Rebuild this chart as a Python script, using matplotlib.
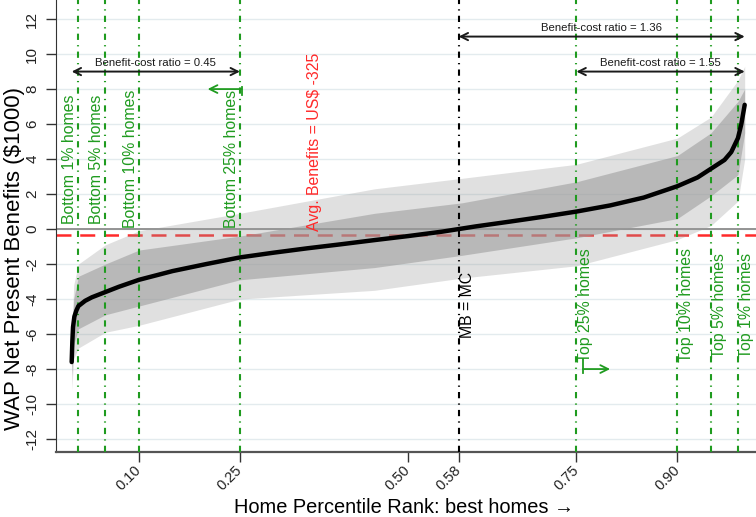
import matplotlib
matplotlib.use("Agg")
import matplotlib.pyplot as plt

plt.rcParams["font.family"] = ["Liberation Sans", "DejaVu Sans"]

# Sorted net present benefits ($1000) against home percentile rank
rank = [0.0, 0.001, 0.002, 0.004, 0.007, 0.01, 0.02, 0.03, 0.05, 0.07, 0.10,
        0.15, 0.20, 0.25, 0.30, 0.35, 0.40, 0.45, 0.50, 0.55, 0.575, 0.60,
        0.65, 0.70, 0.75, 0.80, 0.85, 0.90, 0.93, 0.95, 0.97, 0.98, 0.99,
        0.995, 1.0]
npb = [-7.6, -6.4, -5.6, -5.0, -4.65, -4.4, -4.1, -3.9, -3.6, -3.3, -2.9,
       -2.4, -2.0, -1.62, -1.35, -1.1, -0.87, -0.63, -0.4, -0.15, 0.0, 0.15,
       0.42, 0.7, 1.0, 1.35, 1.8, 2.45, 2.95, 3.45, 3.95, 4.4, 5.2,
       6.0, 7.1]

# Spread of the individual home estimates around the sorted curve
band_rank = [0.0, 0.003, 0.01, 0.05, 0.10, 0.25, 0.45, 0.58, 0.75, 0.90,
             0.95, 0.99, 1.0]
core_hi = [-6.8, -4.0, -2.7, -2.0, -1.2, -0.4, 0.9, 1.5, 2.7, 4.2, 5.5, 7.3, 8.0]
core_lo = [-8.4, -6.6, -5.7, -4.9, -4.4, -2.9, -2.2, -1.5, -0.5, 0.6, 1.9, 3.1, 5.5]
spike_hi = [-6.0, -3.2, -2.0, -0.9, -0.1, 0.9, 2.3, 2.9, 3.7, 5.2, 6.4, 8.5, 9.3]
spike_lo = [-9.2, -7.4, -6.8, -5.9, -5.5, -4.0, -3.5, -2.8, -2.1, -0.6, 0.2, 1.6, 4.0]

avg_benefit = -0.325
mb_mc_rank = 0.575

bottom_cuts = [0.01, 0.05, 0.10, 0.25]
bottom_labels = ["Bottom 1% homes", "Bottom 5% homes", "Bottom 10% homes",
                 "Bottom 25% homes"]
top_cuts = [0.75, 0.90, 0.95, 0.99]
top_labels = ["Top 25% homes", "Top 10% homes", "Top 5% homes", "Top 1% homes"]

xticks = [0.10, 0.25, 0.50, mb_mc_rank, 0.75, 0.90]
xtick_labels = ["0.10", "0.25", "0.50", "0.58", "0.75", "0.90"]
yticks = list(range(-12, 13, 2))

bcr_values = [0.45, 1.36, 1.55]
bcr_from = [0.0, mb_mc_rank, 0.75]
bcr_to = [0.25, 1.0, 1.0]
bcr_y = [9.0, 11.0, 9.0]

green = "#1f9b1f"
dashdot = (0, (3, 2.5, 0.6, 2.5))

fig = plt.figure(figsize=(7.56, 5.17), dpi=100)
ax = fig.add_axes([56 / 756, 1 - 452 / 517, 1 - 56 / 756, 452 / 517])
ax.set_xlim(-0.0233, 1.0168)
ax.set_ylim(-12.74, 13.09)

for yv in yticks:
    ax.axhline(yv, color="#e3ebee", lw=1.0, zorder=0)
ax.axhline(0, color="#8c8c8c", lw=1.3, zorder=1)
ax.axhline(avg_benefit, color="#ff2a2a", lw=1.8, ls=(0, (6, 3.5)), zorder=1)

ax.fill_between(band_rank, spike_lo, spike_hi, color="#9a9a9a", alpha=0.30,
                lw=0, zorder=2)
ax.fill_between(band_rank, core_lo, core_hi, color="#9a9a9a", alpha=0.56,
                lw=0, zorder=2)

for xc in bottom_cuts + top_cuts:
    ax.axvline(xc, color=green, lw=1.5, ls=dashdot, zorder=3)
ax.axvline(mb_mc_rank, color="black", lw=1.5, ls=dashdot, zorder=3)

ax.plot(rank, npb, color="black", lw=3.2, solid_capstyle="round",
        solid_joinstyle="round", zorder=4)

# Rotated cut-off labels
for xc, lab in zip(bottom_cuts, bottom_labels):
    ax.text(xc - 0.002, 4.0, lab, rotation=90, color=green, fontsize=11.4,
            ha="right", va="center", zorder=5)
for xc, lab in zip(top_cuts, top_labels):
    ax.text(xc + 0.002, -4.35, lab, rotation=90, color=green, fontsize=11.4,
            ha="left", va="center", zorder=5)
ax.text(mb_mc_rank + 0.002, -4.35, "MB = MC", rotation=90, color="black",
        fontsize=11.4, ha="left", va="center", zorder=5)
ax.text(0.372, 5.0, "Avg. Benefits = US$ -325", rotation=90, color="#ff2a2a",
        fontsize=11.4, ha="right", va="center", zorder=5)

# Direction arrows for the bottom and top quartiles
ax.plot([0.2525, 0.2525], [8.1, 7.65], color=green, lw=1.3, zorder=5)
ax.annotate("", xy=(0.202, 8.0), xytext=(0.2525, 8.0),
            arrowprops=dict(arrowstyle="->", color=green, lw=1.3,
                            mutation_scale=14, shrinkA=0, shrinkB=0), zorder=5)
ax.plot([0.7595, 0.7595], [-7.4, -8.2], color=green, lw=1.3, zorder=5)
ax.annotate("", xy=(0.80, -8.0), xytext=(0.7595, -8.0),
            arrowprops=dict(arrowstyle="->", color=green, lw=1.3,
                            mutation_scale=14, shrinkA=0, shrinkB=0), zorder=5)

# Benefit-cost ratio spans
for x0, x1, yv, bcr in zip(bcr_from, bcr_to, bcr_y, bcr_values):
    ax.annotate("", xy=(x0, yv), xytext=(x1, yv),
                arrowprops=dict(arrowstyle="<->", color="#1a1a1a", lw=1.4,
                                mutation_scale=13, shrinkA=0, shrinkB=0),
                zorder=5)
    ax.text((x0 + x1) / 2, yv + 0.2, f"Benefit-cost ratio = {bcr:.2f}",
            fontsize=8.2, color="#1a1a1a", ha="center", va="bottom", zorder=5)

ax.set_yticks(yticks)
ax.set_yticklabels([str(v) for v in yticks], rotation=90, va="center")
ax.set_xticks(xticks)
ax.set_xticklabels(xtick_labels, rotation=45, ha="right", va="center",
                   rotation_mode="anchor")
ax.tick_params(axis="both", colors="#333333", length=7, width=1.0,
               labelcolor="#222222")
ax.tick_params(axis="y", pad=5, labelsize=11)
ax.tick_params(axis="x", pad=4.3, labelsize=10.5)

for side in ("top", "right"):
    ax.spines[side].set_visible(False)
ax.spines["left"].set_color("#333333")
ax.spines["bottom"].set_color("#555555")
ax.spines["bottom"].set_linewidth(1.6)

ax.set_ylabel("WAP Net Present Benefits ($1000)", fontsize=16)
ax.yaxis.label.set_va("center")
ax.yaxis.set_label_coords(-0.059, 0.428)
ax.set_xlabel("Home Percentile Rank: best homes \u2192", fontsize=14.4)
ax.xaxis.label.set_va("baseline")
ax.xaxis.set_label_coords(0.497, -0.135)

fig.savefig("out.png", dpi=100)
